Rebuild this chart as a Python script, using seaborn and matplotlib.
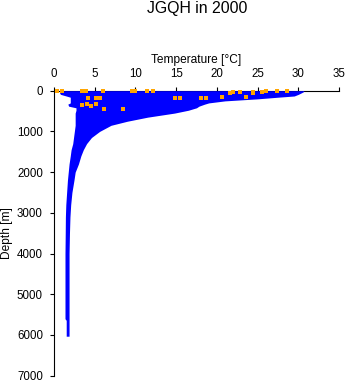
import matplotlib
matplotlib.use("Agg")
import matplotlib.pyplot as plt
import seaborn as sns
import pandas as pd

# Envelope of all temperature profiles (depth in m, min / max temperature in °C)
depth = [0, 30, 60, 90, 130, 160, 200, 250, 300, 330, 380, 420, 480, 550, 650,
         750, 850, 1000, 1150, 1300, 1450, 1600, 1800, 2000, 2200, 2500, 2800,
         3100, 3500, 4000, 4500, 5000, 5600, 5640, 6030]
tmin = [0.7, 0.7, 0.7, 0.8, 1.5, 2.0, 2.0, 2.0, 2.0, 1.7, 1.8, 2.7, 2.7, 2.6, 2.6,
        2.6, 2.6, 2.5, 2.4, 2.3, 2.1, 2.0, 1.85, 1.75, 1.65, 1.55, 1.45,
        1.4, 1.38, 1.35, 1.35, 1.35, 1.35, 1.5, 1.5]
tmax = [30.7, 30.6, 30.3, 30.0, 29.5, 27.5, 25.0, 21.0, 19.0, 18.5, 17.8, 17.5,
        16.5, 14.8, 11.5, 9.0, 7.0, 5.6, 4.6, 4.0, 3.6, 3.3, 3.0, 2.6, 2.45,
        2.2, 2.05, 1.96, 1.9, 1.85, 1.85, 1.85, 1.85, 1.85, 1.85]

# Highlighted (orange) observations
hl_temp = [0.4, 1.0, 3.4, 3.9, 6.0, 9.6, 10.0, 11.4, 12.1, 4.2, 5.1, 5.7, 3.4, 4.0,
           4.6, 5.2, 6.1, 8.5, 14.8, 15.5, 18.0, 18.7, 20.6, 21.6, 22.0, 22.8,
           23.6, 24.4, 24.4, 25.5, 26.0, 27.4, 28.6]
hl_depth = [0, 0, 0, 0, 0, 0, 0, 0, 0, 190, 190, 190, 350, 325,
            370, 325, 457, 457, 187, 187, 187, 187, 165, 65, 40, 40,
            165, 40, 65, 40, 0, 0, 0]

xticks = [0, 5, 10, 15, 20, 25, 30, 35]
yticks = [0, 1000, 2000, 3000, 4000, 5000, 6000, 7000]

sns.set_style("ticks")
plt.rcParams['font.family'] = ['Liberation Sans', 'DejaVu Sans']

fig = plt.figure(figsize=(3.48, 3.84), dpi=100)
ax = fig.add_axes([54 / 348, 1 - 375.7 / 384, 285 / 348, 285 / 384])

ax.fill_betweenx(depth, tmin, tmax, color="#0000FF", lw=0, zorder=3, clip_on=False)

hl = pd.DataFrame({"Temperature": hl_temp, "Depth": hl_depth})
sns.scatterplot(data=hl, x="Temperature", y="Depth", ax=ax, color="#FFA500",
                marker="s", s=7, linewidth=0, zorder=4, clip_on=False)

ax.set_xlim(0, 35)
ax.set_ylim(7000, 0)
ax.set_xticks(xticks)
ax.set_yticks(yticks)
ax.set_xticklabels([str(v) for v in xticks])
ax.set_yticklabels([str(v) for v in yticks])
ax.xaxis.tick_top()
ax.xaxis.set_label_position("top")

for side in ["right", "bottom"]:
    ax.spines[side].set_visible(False)
for side in ["top", "left"]:
    ax.spines[side].set_linewidth(0.8)
    ax.spines[side].set_color("black")

ax.tick_params(axis="both", direction="out", length=3, width=0.8, color="black",
               labelsize=8.3, labelcolor="black")
ax.tick_params(axis="x", pad=5)
ax.tick_params(axis="y", pad=5)

ax.set_xlabel("Temperature [°C]", fontsize=8.6, color="black")
ax.xaxis.set_label_coords(0.5, (375.7 - 60) / 285)
ax.set_ylabel("Depth [m]", fontsize=8.6, color="black")
ax.yaxis.set_label_coords((6.7 - 54) / 285, 0.5)
for lbl in (ax.xaxis.label, ax.yaxis.label):
    lbl.set_verticalalignment("center")

fig.text(197 / 348, 1 - 9 / 384, "JGQH in 2000", ha="center", va="center",
         fontsize=11.4, color="black")

fig.savefig("out.png", dpi=100)
